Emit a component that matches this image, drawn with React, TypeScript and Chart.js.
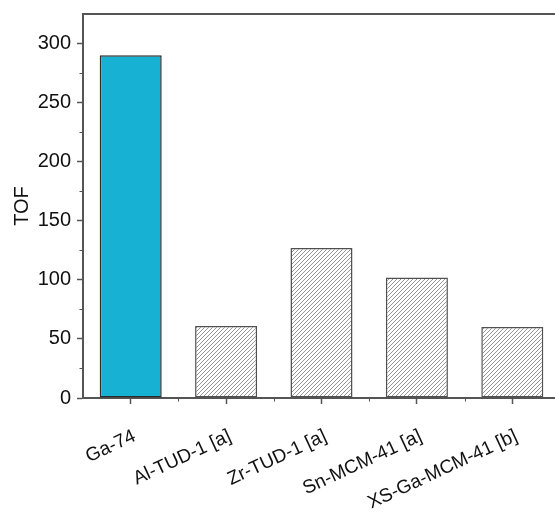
import React, { useEffect, useRef } from "react";
import { Chart, registerables } from "chart.js";

Chart.register(...registerables);

// Catalysts and their turnover frequencies
const catalysts = ["Ga-74", "Al-TUD-1 [a]", "Zr-TUD-1 [a]", "Sn-MCM-41 [a]", "XS-Ga-MCM-41 [b]"];
const tofValues = [290, 61, 127, 102, 60];
const yTicks = [0, 50, 100, 150, 200, 250, 300];
const yMinorTicks = [25, 75, 125, 175, 225, 275];
const yMax = 325;

const AXIS_COLOR = "#555555";
const FONT = "'Liberation Sans', Arial, sans-serif";

function makeHatch(): CanvasPattern | string {
  const size = 4;
  const c = document.createElement("canvas");
  c.width = size;
  c.height = size;
  const g = c.getContext("2d");
  if (!g) return "#ffffff";
  g.fillStyle = "#ffffff";
  g.fillRect(0, 0, size, size);
  g.strokeStyle = "#8a8a8a";
  g.lineWidth = 0.9;
  g.beginPath();
  g.moveTo(-1, size + 1);
  g.lineTo(size + 1, -1);
  g.moveTo(-1, 1);
  g.lineTo(1, -1);
  g.moveTo(size - 1, size + 1);
  g.lineTo(size + 1, size - 1);
  g.stroke();
  return g.createPattern(c, "repeat") || "#ffffff";
}

// Top frame line plus minor tick marks on both axes
const framePlugin = {
  id: "frameAndMinorTicks",
  afterDraw(chart: any) {
    const { ctx, chartArea, scales } = chart;
    ctx.save();
    ctx.strokeStyle = AXIS_COLOR;
    ctx.lineWidth = 2;
    ctx.beginPath();
    ctx.moveTo(chartArea.left - 1, chartArea.top);
    ctx.lineTo(chartArea.right, chartArea.top);
    ctx.stroke();

    ctx.lineWidth = 1;
    ctx.beginPath();
    for (const v of yMinorTicks) {
      const y = Math.round(scales.y.getPixelForValue(v)) + 0.5;
      ctx.moveTo(chartArea.left - 3.5, y);
      ctx.lineTo(chartArea.left, y);
    }
    const xs = scales.x;
    for (let i = 0; i < catalysts.length - 1; i++) {
      const x = Math.round((xs.getPixelForValue(i) + xs.getPixelForValue(i + 1)) / 2) + 0.5;
      ctx.moveTo(x, chartArea.bottom);
      ctx.lineTo(x, chartArea.bottom + 3.5);
    }
    ctx.stroke();
    ctx.restore();
  },
};

export default function App() {
  const canvasRef = useRef<HTMLCanvasElement | null>(null);

  useEffect(() => {
    const canvas = canvasRef.current;
    if (!canvas) return;
    const hatch = makeHatch();
    const chart = new Chart(canvas, {
      type: "bar",
      data: {
        labels: catalysts,
        datasets: [
          {
            data: tofValues,
            backgroundColor: tofValues.map((_, i) => (i === 0 ? "#17b1d3" : hatch)) as any,
            borderColor: tofValues.map((_, i) => (i === 0 ? "#2b2b2b" : "#505050")),
            borderWidth: 1.5,
            borderSkipped: false,
            barPercentage: 0.65,
            categoryPercentage: 1,
          },
        ],
      },
      options: {
        responsive: false,
        animation: false,
        devicePixelRatio: 1,
        layout: { padding: { left: 0, top: 14, right: 15, bottom: 0 } },
        plugins: { legend: { display: false }, tooltip: { enabled: false } },
        scales: {
          x: {
            type: "category",
            offset: true,
            afterFit: (s: any) => {
              s.height = 114;
            },
            grid: {
              offset: false,
              drawOnChartArea: false,
              drawTicks: true,
              tickLength: 6,
              tickWidth: 1.5,
              tickColor: AXIS_COLOR,
            },
            border: { display: true, color: AXIS_COLOR, width: 2 },
            ticks: {
              autoSkip: false,
              minRotation: 25,
              maxRotation: 25,
              padding: 21,
              labelOffset: 4,
              color: "#111111",
              font: { family: FONT, size: 19 },
            },
          },
          y: {
            type: "linear",
            min: 0,
            max: yMax,
            afterFit: (s: any) => {
              s.width = 83;
              s.paddingTop = 0;
              s.paddingBottom = 0;
            },
            afterBuildTicks: (s: any) => {
              s.ticks = yTicks.map((v) => ({ value: v }));
            },
            grid: {
              drawOnChartArea: false,
              drawTicks: true,
              tickLength: 6,
              tickWidth: 1.5,
              tickColor: AXIS_COLOR,
            },
            border: { display: true, color: AXIS_COLOR, width: 2 },
            ticks: {
              padding: 6,
              color: "#111111",
              font: { family: FONT, size: 20 },
            },
            title: {
              display: true,
              text: "TOF",
              color: "#111111",
              font: { family: FONT, size: 20 },
              padding: { top: 10, bottom: 0 },
            },
          },
        },
      },
      plugins: [framePlugin],
    });
    return () => chart.destroy();
  }, []);

  return (
    <div
      style={{
        position: "absolute",
        left: 0,
        top: 0,
        width: 555,
        height: 512,
        overflow: "hidden",
        background: "#ffffff",
      }}
    >
      <canvas ref={canvasRef} width={575} height={512} style={{ display: "block" }} />
    </div>
  );
}
